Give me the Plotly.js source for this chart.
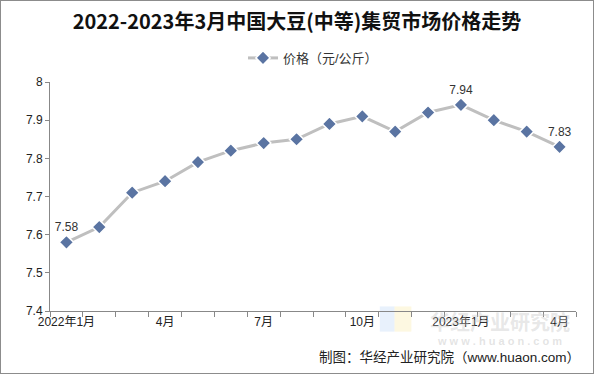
<!DOCTYPE html>
<html>
<head>
<meta charset="utf-8">
<script src="https://cdn.plot.ly/plotly-3.0.1.min.js"></script>
<style>
html,body{margin:0;padding:0;background:#fff;}
#wrap{position:relative;width:594px;height:374px;}
#chart{width:594px;height:374px;}
#frame{position:absolute;left:0;top:0;width:594px;height:374px;box-sizing:border-box;border:1px solid #8c8c8c;pointer-events:none;}
</style>
</head>
<body>
<div id="wrap"><div id="chart"></div><div id="frame"></div></div>
<script>
// Data
const months = ['2022年1月','2月','3月','4月','5月','6月','7月','8月','9月','10月','11月','12月','2023年1月','2月','3月','4月'];
const prices = [7.58, 7.62, 7.71, 7.74, 7.79, 7.82, 7.84, 7.85, 7.89, 7.91, 7.87, 7.92, 7.94, 7.90, 7.87, 7.83];
const shownTickIdx = [0, 3, 6, 9, 12, 15];
const shownTickText = ['2022年1月','4月','7月','10月','2023年1月','4月'];
const labelIdx = [0, 12, 15];

const xIdx = months.map((m, i) => i);
const pointText = prices.map((v, i) => labelIdx.includes(i) ? v.toFixed(2) : '');

const baseFont = 'Arial, "Liberation Sans", "Noto Sans CJK SC", sans-serif';

const trace = {
  type: 'scatter',
  mode: 'lines+markers+text',
  name: '价格（元/公斤）',
  x: xIdx,
  y: prices,
  text: pointText,
  textposition: 'top center',
  textfont: {family: baseFont, size: 12, color: '#333'},
  line: {color: '#bfbfbf', width: 3},
  marker: {symbol: 'diamond', size: 11, color: '#5a74a2', line: {color: '#ffffff', width: 1.5}},
  hoverinfo: 'x+y'
};

const layout = {
  width: 594, height: 374,
  margin: {l: 50, r: 18, t: 82, b: 63},
  paper_bgcolor: '#ffffff', plot_bgcolor: '#ffffff',
  title: {
    text: '2022-2023年3月中国大豆(中等)集贸市场价格走势',
    font: {family: '"Noto Sans CJK SC", sans-serif', size: 20, color: '#111', weight: 'bold'},
    x: 0.5, xanchor: 'center', y: 0.94, yanchor: 'middle', yref: 'container'
  },
  showlegend: true,
  legend: {
    orientation: 'h', x: 0.5, xanchor: 'center', y: 1.105, yanchor: 'middle',
    font: {family: baseFont, size: 13, color: '#333'},
    bgcolor: 'rgba(0,0,0,0)'
  },
  xaxis: {
    range: [-0.5, 15.5],
    tickmode: 'array', tickvals: shownTickIdx, ticktext: shownTickText,
    ticks: '', showgrid: false, zeroline: false,
    showline: true, linecolor: '#888', linewidth: 1,
    tickfont: {family: baseFont, size: 12, color: '#222'},
    minor: {ticks: 'outside', tick0: -0.5, dtick: 1, ticklen: 5, tickcolor: '#888', tickwidth: 1, showgrid: false},
    fixedrange: true
  },
  yaxis: {
    range: [7.4, 8.0], dtick: 0.1, tick0: 7.4,
    ticks: 'outside', ticklen: 4, tickcolor: '#888',
    showgrid: false, zeroline: false,
    showline: true, linecolor: '#888', linewidth: 1,
    tickfont: {family: baseFont, size: 12, color: '#222'},
    tickformat: '.1~f',
    fixedrange: true
  },
  shapes: [
    {type: 'rect', xref: 'paper', yref: 'paper', x0: 0.627, x1: 0.655, y0: -0.09, y1: 0.02, fillcolor: 'rgba(190,215,245,0.35)', line: {width: 0}, layer: 'below'},
    {type: 'rect', xref: 'paper', yref: 'paper', x0: 0.655, x1: 0.687, y0: -0.09, y1: 0.02, fillcolor: 'rgba(250,235,170,0.35)', line: {width: 0}, layer: 'below'}
  ],
  annotations: [
    {text: '华经产业研究院', xref: 'paper', yref: 'paper', x: 0.855, y: -0.045, xanchor: 'center', yanchor: 'middle', showarrow: false,
     font: {family: '"Noto Sans CJK SC", sans-serif', size: 20, color: 'rgba(195,195,195,0.4)', weight: 'bold'}},
    {text: 'w w w . h u a o n . c o m', xref: 'paper', yref: 'paper', x: 0.855, y: -0.13, xanchor: 'center', yanchor: 'middle', showarrow: false,
     font: {family: baseFont, size: 11, color: 'rgba(195,195,195,0.45)', weight: 'bold'}},
    {text: '制图：华经产业研究院（www.huaon.com）', xref: 'paper', yref: 'paper', x: 1.012, y: -0.205, xanchor: 'right', yanchor: 'middle', showarrow: false,
     font: {family: baseFont, size: 13.5, color: '#222'}}
  ]
};

Plotly.newPlot('chart', [trace], layout, {displayModeBar: false, staticPlot: true});
</script>
</body>
</html>
